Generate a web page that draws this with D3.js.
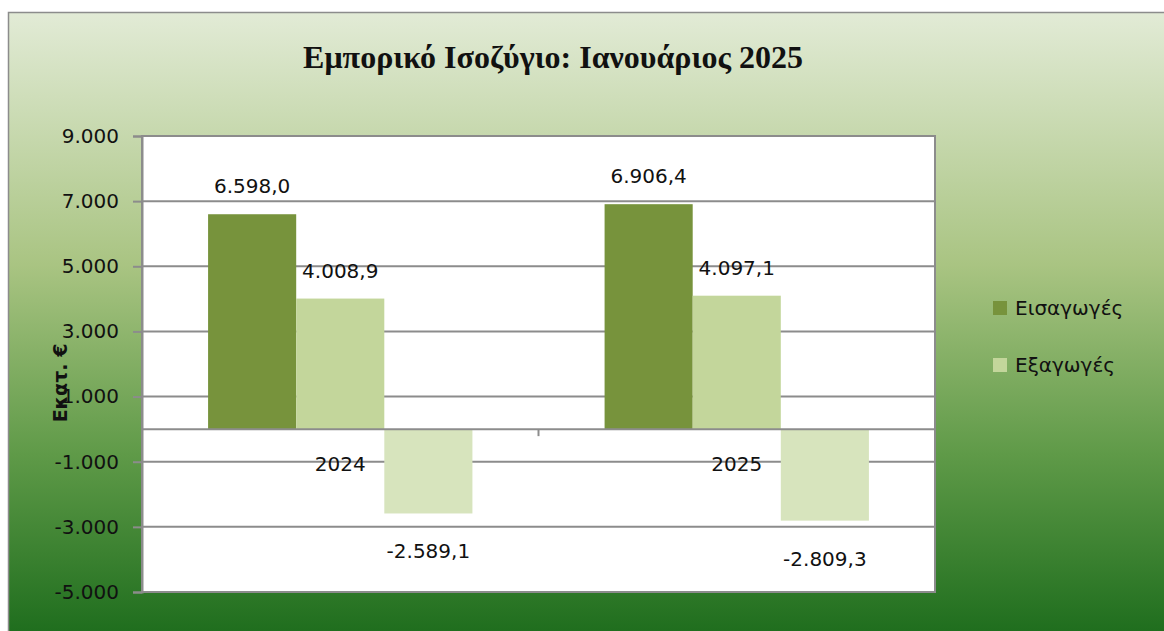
<!DOCTYPE html>
<meta charset="utf-8">
<script src="https://d3js.org/d3.v7.min.js"></script>
<style>
body { margin: 0; background: #fff; }
#chart text { font-family: "DejaVu Sans", sans-serif; fill: #111; }
</style>
<div id="chart"></div>
<script>
// data
var years = ["2024", "2025"];
var seriesNames = ["Εισαγωγές", "Εξαγωγές", "Ισοζύγιο"];
var imports = [6598.0, 6906.4];
var exports = [4008.9, 4097.1];
var balance = [-2589.1, -2809.3];
var yTicks = [9000, 7000, 5000, 3000, 1000, -1000, -3000, -5000];
var colors = ["#77933c", "#c3d69b", "#d7e4bd"];

var W = 1164, H = 631;
var plot = { left: 142, top: 136, right: 935, bottom: 592 };

var svg = d3.select("#chart").append("svg")
    .attr("width", W).attr("height", H);

// background gradient
var grad = svg.append("defs").append("linearGradient")
    .attr("id", "bg").attr("x1", 0).attr("y1", 0).attr("x2", 0).attr("y2", 1);
grad.append("stop").attr("offset", "0%").attr("stop-color", "#e2ebd6");
grad.append("stop").attr("offset", "40%").attr("stop-color", "#a9c482");
grad.append("stop").attr("offset", "70%").attr("stop-color", "#5f9a48");
grad.append("stop").attr("offset", "100%").attr("stop-color", "#1b6b1b");

svg.append("rect")
    .attr("x", 8.5).attr("y", 12.5).attr("width", W).attr("height", H)
    .attr("fill", "url(#bg)").attr("stroke", "#8c8c8c").attr("stroke-width", 1.5);

// plot area
svg.append("rect")
    .attr("x", plot.left).attr("y", plot.top)
    .attr("width", plot.right - plot.left).attr("height", plot.bottom - plot.top)
    .attr("fill", "#fff").attr("stroke", "#8c8c8c").attr("stroke-width", 2);

var y = d3.scaleLinear().domain([-5000, 9000]).range([plot.bottom, plot.top]);
var x0 = d3.scaleBand().domain(years).range([plot.left, plot.right]).paddingInner(0).paddingOuter(0);
var x1 = d3.scaleBand().domain(seriesNames).range([0, x0.bandwidth()]).paddingOuter(0.75).paddingInner(0);

var dash = function(s) { return s.replace(/\u2212/g, "-"); };

// grid + y axis
var yAxis = svg.append("g")
    .attr("transform", "translate(" + plot.left + ",0)")
    .call(d3.axisLeft(y).tickValues(yTicks).tickSize(9).tickPadding(14)
        .tickFormat(function(d) { return dash(d3.format(",")(d).replace(/,/g, ".")); }));
yAxis.select(".domain").attr("stroke", "#8c8c8c").attr("stroke-width", 2);
yAxis.selectAll(".tick line").attr("stroke", "#8c8c8c").attr("stroke-width", 2);
yAxis.selectAll(".tick text").style("font-size", "20px").attr("fill", "#111");

svg.append("g").selectAll("line").data(yTicks).join("line")
    .attr("x1", plot.left).attr("x2", plot.right)
    .attr("y1", function(d) { return y(d); }).attr("y2", function(d) { return y(d); })
    .attr("stroke", "#8c8c8c").attr("stroke-width", 2);

// bars
var rows = years.map(function(yr, i) {
    return { year: yr, vals: [imports[i], exports[i], balance[i]] };
});
var groups = svg.append("g").selectAll("g").data(rows).join("g")
    .attr("transform", function(d) { return "translate(" + x0(d.year) + ",0)"; });

groups.selectAll("rect").data(function(d) { return d.vals; }).join("rect")
    .attr("x", function(d, i) { return x1(seriesNames[i]); })
    .attr("width", x1.bandwidth())
    .attr("y", function(d) { return y(Math.max(0, d)); })
    .attr("height", function(d) { return Math.abs(y(d) - y(0)); })
    .attr("fill", function(d, i) { return colors[i]; });

var fmt = function(v) {
    return dash(d3.format(",.1f")(v).replace(/,/g, "#").replace(".", ",").replace(/#/g, "."));
};
groups.selectAll("text.lbl").data(function(d) { return d.vals; }).join("text")
    .attr("class", "lbl")
    .attr("text-anchor", "middle")
    .attr("x", function(d, i) { return x1(seriesNames[i]) + x1.bandwidth() / 2; })
    .attr("y", function(d) { return d >= 0 ? y(d) - 21 : y(d) + 45; })
    .style("font-size", "20px")
    .text(fmt);

// category axis at zero
var xAxis = svg.append("g")
    .attr("transform", "translate(0," + y(0) + ")");
xAxis.append("line")
    .attr("x1", plot.left).attr("x2", plot.right)
    .attr("stroke", "#8c8c8c").attr("stroke-width", 2);
xAxis.selectAll("line.tk").data([plot.left + x0.bandwidth(), plot.right]).join("line")
    .attr("class", "tk")
    .attr("x1", function(d) { return d; }).attr("x2", function(d) { return d; })
    .attr("y1", 0).attr("y2", 7)
    .attr("stroke", "#8c8c8c").attr("stroke-width", 2);
xAxis.selectAll("text").data(years).join("text")
    .attr("text-anchor", "middle")
    .attr("x", function(d) { return x0(d) + x0.bandwidth() / 2; })
    .attr("y", 42)
    .style("font-size", "20px")
    .text(function(d) { return d; });

// title
svg.append("text")
    .attr("x", 553).attr("y", 68)
    .attr("text-anchor", "middle")
    .style("font-family", "'Liberation Serif', serif")
    .style("font-weight", "bold")
    .style("font-size", "32px")
    .text("Εμπορικό Ισοζύγιο: Ιανουάριος 2025");

// y label
svg.append("text")
    .attr("transform", "translate(67,383) rotate(-90)")
    .attr("text-anchor", "middle")
    .style("font-weight", "bold")
    .style("font-size", "19px")
    .text("Εκατ. €");

// legend
var legend = svg.append("g").selectAll("g").data(seriesNames.slice(0, 2)).join("g")
    .attr("transform", function(d, i) { return "translate(993," + (308 + i * 57) + ")"; });
legend.append("rect")
    .attr("x", 0).attr("y", -7).attr("width", 14).attr("height", 14)
    .attr("fill", function(d, i) { return colors[i]; });
legend.append("text")
    .attr("x", 22).attr("y", 7)
    .style("font-size", "20px")
    .text(function(d) { return d; });
</script>
